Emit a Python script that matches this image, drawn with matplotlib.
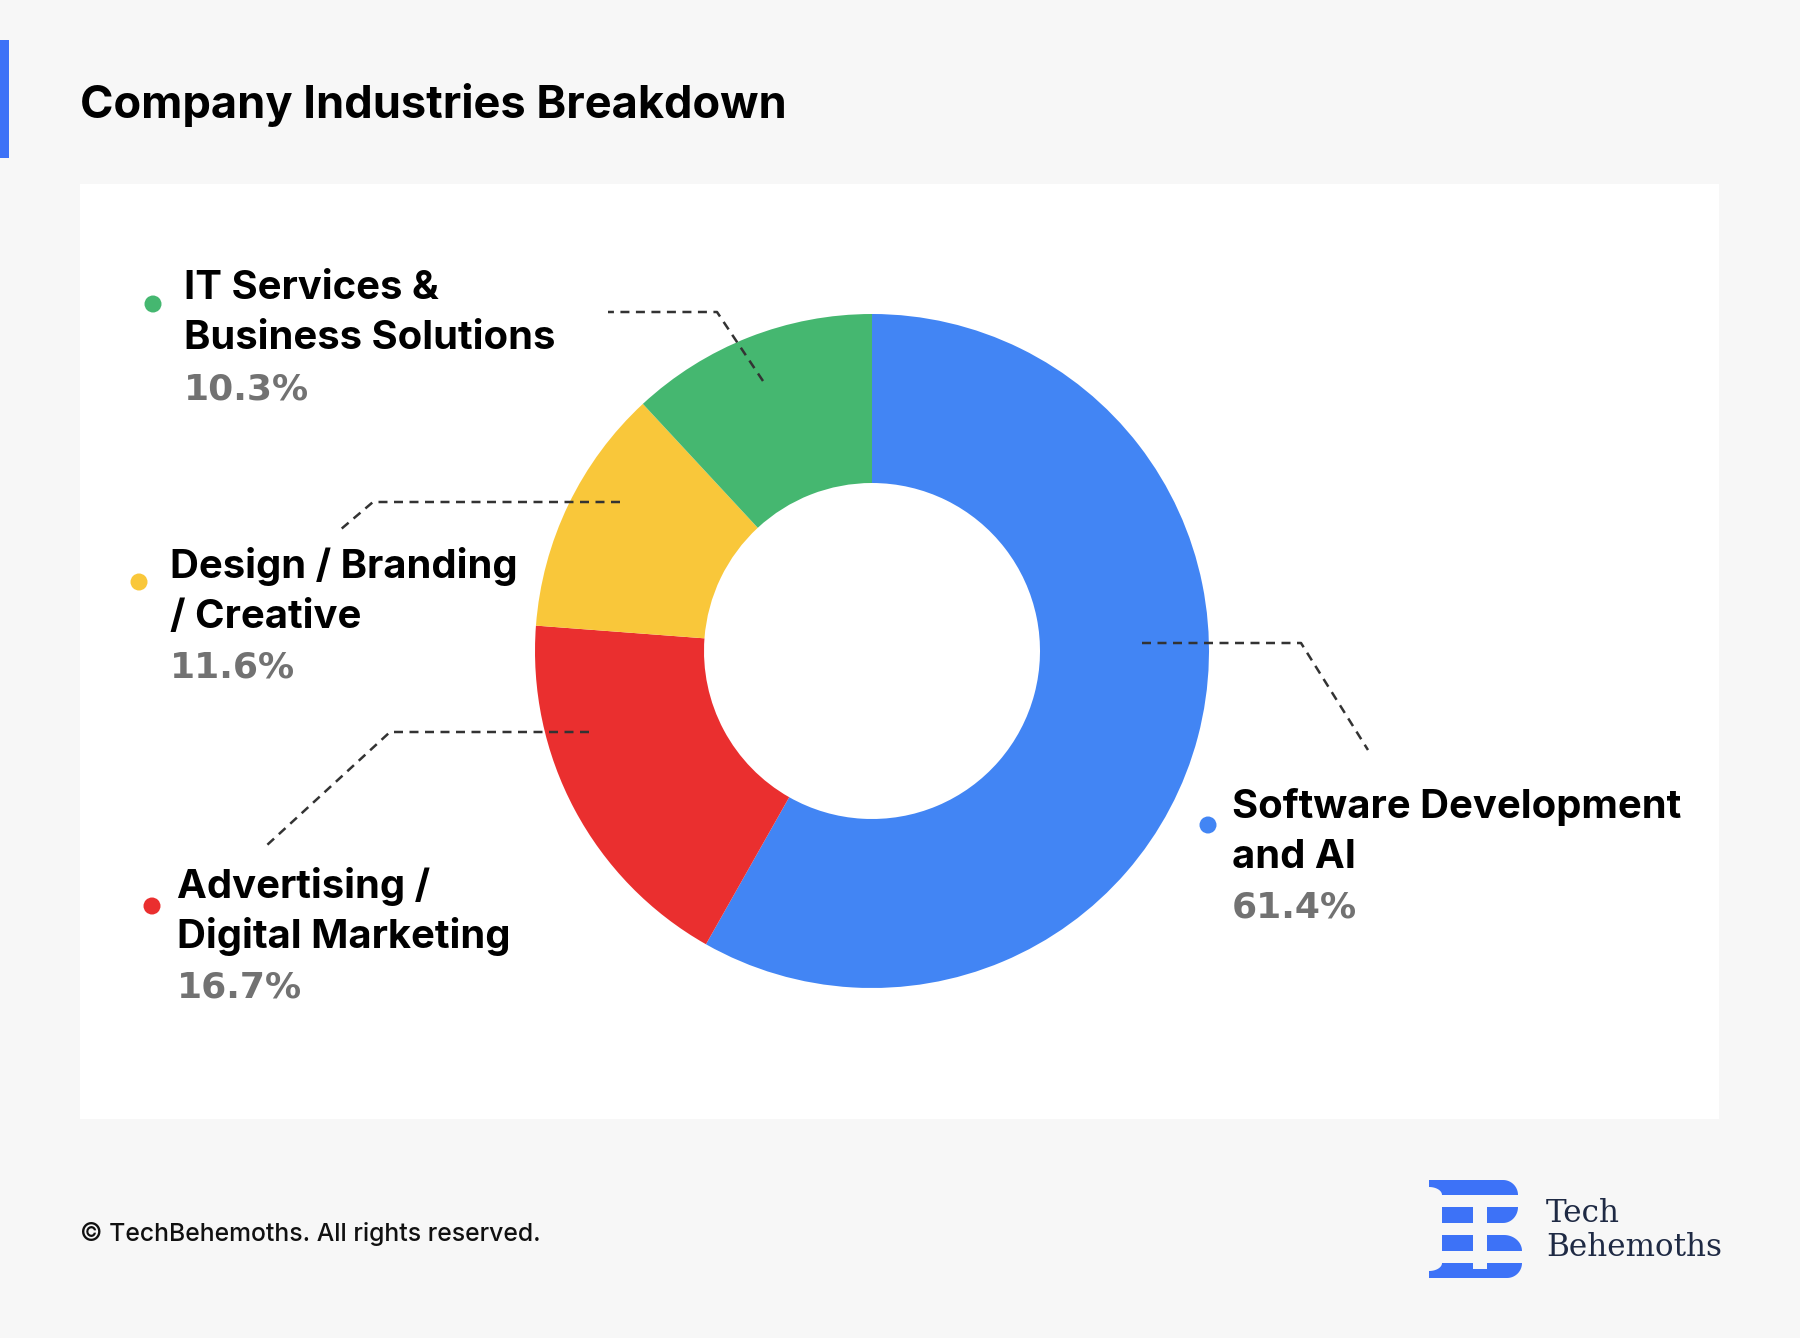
import numpy as np
import matplotlib
matplotlib.use("Agg")
import matplotlib.pyplot as plt
from matplotlib.patches import Rectangle, Circle, Polygon

# chart data
categories = ["Software Development\nand AI",
              "Advertising /\nDigital Marketing",
              "Design / Branding\n/ Creative",
              "IT Services &\nBusiness Solutions"]
# printed percentages
shares = [61.4, 16.7, 11.6, 10.3]
# slice sizes as drawn in the original (they do not follow the printed numbers)
wedge_sizes = [58.2, 18.0, 11.9, 11.9]
colors = ["#4285F4", "#EA2F2F", "#F9C73A", "#45B770"]

W, H = 1800, 1338
BG = "#F7F7F7"


def Y(y):
    # pixel rows are measured from the top, the axes go upwards
    return H - y


fig = plt.figure(figsize=(W / 100, H / 100), dpi=100, facecolor=BG)
ax = fig.add_axes([0, 0, 1, 1])
ax.set_facecolor(BG)

# accent bar + title
ax.add_patch(Rectangle((0, Y(158)), 9, 118, color="#3D72F7", lw=0))
ax.text(80, Y(118), "Company Industries Breakdown", fontsize=32.5,
        fontweight="bold", family="Inter", color="#000000", va="baseline")

# white panel
ax.add_patch(Rectangle((80, Y(1119)), 1639, 935, color="white", lw=0, zorder=0))

# donut
cx, cy, R = 872, Y(651), 337
ax.pie(wedge_sizes, colors=colors, startangle=90, counterclock=False, radius=R,
       center=(cx, cy), wedgeprops=dict(width=R - 168, linewidth=0))

# label layout: text x, first baseline, dot position
label_pos = [(1232, 818, 1208, 825),
             (177, 898, 152, 906),
             (170, 578, 139, 582),
             (184, 299, 153, 304)]
leaders = [[(1142, 643), (1301, 643), (1368, 750)],
           [(589, 732), (390, 732), (266, 846)],
           [(620, 502), (373, 502), (340, 530)],
           [(763, 381), (717, 312), (608, 312)]]

for name, val, col, (tx, by, dx, dy), pts in zip(categories, shares, colors,
                                                  label_pos, leaders):
    lines = name.split("\n")
    for i, line in enumerate(lines):
        ax.text(tx, Y(by + 50 * i), line, fontsize=28.8, fontweight="bold",
                family="Inter", color="#000000", va="baseline")
    ax.text(tx, Y(by + 50 * len(lines)), f"{val}%", fontsize=26,
            fontweight="bold", family="DejaVu Sans", color="#727272",
            va="baseline")
    ax.add_patch(Circle((dx, Y(dy)), 8.5, color=col, lw=0, zorder=4))
    xs = [p[0] for p in pts]
    ys = [Y(p[1]) for p in pts]
    ax.plot(xs, ys, color="#333333", lw=1.8, ls=(0, (3.6, 2.6)), zorder=5)

# footer
ax.text(80, Y(1241), "\u00a9 TechBehemoths. All rights reserved.", fontsize=17.8,
        fontweight="medium", family="Inter", color="#111111", va="baseline")

# logo
logo_blue = "#3D72F7"


def arc(xc, yc, rx, ry, a0, a1, n=20):
    t = np.radians(np.linspace(a0, a1, n))
    return list(zip(xc + rx * np.cos(t), yc + ry * np.sin(t)))


# logo pieces in top-down pixel coords, converted below
top = [(1429, 1180), (1503, 1180)] + arc(1503, 1195, 15, 15, -90, 0) + \
      [(1442, 1195)] + arc(1429, 1195, 13, 8, 0, -90)[1:]
bottom = [(1429, 1278), (1507, 1278)] + arc(1507, 1263, 15, 15, 90, 0) + \
         [(1487, 1263), (1487, 1269), (1473, 1269), (1473, 1263), (1442, 1263)] + \
         arc(1429, 1263, 13, 8, 0, 90)[1:]
row2_r = [(1487, 1207), (1518, 1207)] + arc(1503, 1207, 15, 16, 0, 90) + [(1487, 1223)]
row3_r = [(1487, 1251), (1522, 1251)] + arc(1504, 1251, 18, 16, 0, -90) + [(1487, 1235)]
shapes = [top, bottom, row2_r, row3_r,
          [(1442, 1207), (1473, 1207), (1473, 1223), (1442, 1223)],
          [(1442, 1235), (1473, 1235), (1473, 1251), (1442, 1251)]]
for s in shapes:
    ax.add_patch(Polygon([(x, Y(y)) for x, y in s], closed=True,
                         color=logo_blue, lw=0))

ax.text(1546, Y(1222), "Tech", fontsize=22.3, family="DejaVu Serif",
        color="#1F2A44", va="baseline")
ax.text(1546, Y(1256), "Behemoths", fontsize=22.3, family="DejaVu Serif",
        color="#1F2A44", va="baseline")

ax.set_xlim(0, W)
ax.set_ylim(0, H)
ax.set_aspect("auto")
ax.axis("off")

fig.savefig("out.png", dpi=100, facecolor=BG)
